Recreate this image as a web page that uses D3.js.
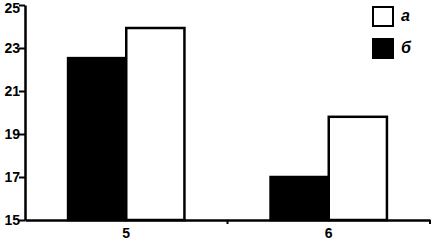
<!DOCTYPE html>
<html>
<head>
<meta charset="utf-8">
<script src="https://cdn.jsdelivr.net/npm/d3@7"></script>
<style>
  body { margin: 0; background: #fff; }
  svg { display: block; font-family: "Liberation Sans", Arial, sans-serif; }
</style>
</head>
<body>
<svg id="chart" width="431" height="240"></svg>
<script>
const categories = ["5", "6"];
const seriesNames = ["б", "а"];        // black first, white second
const seriesA = [23.93, 19.8];         // а (white)
const seriesB = [22.53, 17.0];         // б (black)
const yTicks = [15, 17, 19, 21, 23, 25];

const svg = d3.select("#chart");
const margin = { left: 25, right: 1, top: 5, bottom: 20 };
const width = 431, height = 240;

const x = d3.scaleBand()
    .domain(categories)
    .range([margin.left, width - margin.right]);

const y = d3.scaleLinear()
    .domain([15, 25])
    .range([height - margin.bottom, margin.top]);

const inner = d3.scaleBand()
    .domain(seriesNames)
    .range([0, x.bandwidth()])
    .paddingOuter(0.74)
    .paddingInner(0);

const rows = categories.map((c, i) => ({ cat: c, "б": seriesB[i], "а": seriesA[i] }));

// bars
const g = svg.append("g");
rows.forEach(d => {
  seriesNames.forEach(s => {
    const black = s === "б";
    g.append("rect")
        .attr("x", x(d.cat) + inner(s))
        .attr("y", y(d[s]))
        .attr("width", inner.bandwidth())
        .attr("height", y(15) - y(d[s]))
        .attr("fill", black ? "#000" : "#fff")
        .attr("stroke", "#000")
        .attr("stroke-width", 2.5);
  });
});

// y axis
const yAxis = svg.append("g")
    .attr("transform", `translate(${margin.left},0)`)
    .call(d3.axisLeft(y).tickValues(yTicks).tickSize(6).tickPadding(1).tickSizeOuter(0));
yAxis.select(".domain").attr("stroke-width", 2.5);
yAxis.selectAll(".tick line").attr("stroke-width", 2);
yAxis.selectAll(".tick text")
    .attr("font-size", 14)
    .attr("font-weight", "bold")
    .attr("fill", "#000")
    .attr("x", -5)
    .attr("dy", d => d === 25 ? "0.55em" : "0.35em")   // keep top label inside the frame
    .attr("text-anchor", "end");

// x axis
const xAxis = svg.append("g")
    .attr("transform", `translate(0,${y(15)})`)
    .call(d3.axisBottom(x).tickSize(0).tickPadding(8));
xAxis.select(".domain").attr("stroke-width", 2.5);
xAxis.selectAll(".tick text")
    .attr("font-size", 14)
    .attr("font-weight", "bold")
    .attr("fill", "#000");
xAxis.selectAll(".sep")
    .data(categories.slice(1).concat([""]))
    .join("line")
    .attr("x1", (d, i) => x.range()[0] + x.step() * (i + 1))
    .attr("x2", (d, i) => x.range()[0] + x.step() * (i + 1))
    .attr("y1", 0)
    .attr("y2", 4)
    .attr("stroke", "#000")
    .attr("stroke-width", 2);

// legend
const legend = svg.append("g").attr("transform", "translate(373,7)");
[["а", "#fff"], ["б", "#000"]].forEach(([name, fill], i) => {
  const row = legend.append("g").attr("transform", `translate(0,${i * 32})`);
  row.append("rect")
      .attr("width", 20).attr("height", 19)
      .attr("fill", fill).attr("stroke", "#000").attr("stroke-width", 2);
  row.append("text")
      .attr("x", 28).attr("y", 14)
      .attr("font-size", 16).attr("font-style", "italic").attr("font-weight", "bold")
      .text(name);
});
</script>
</body>
</html>
